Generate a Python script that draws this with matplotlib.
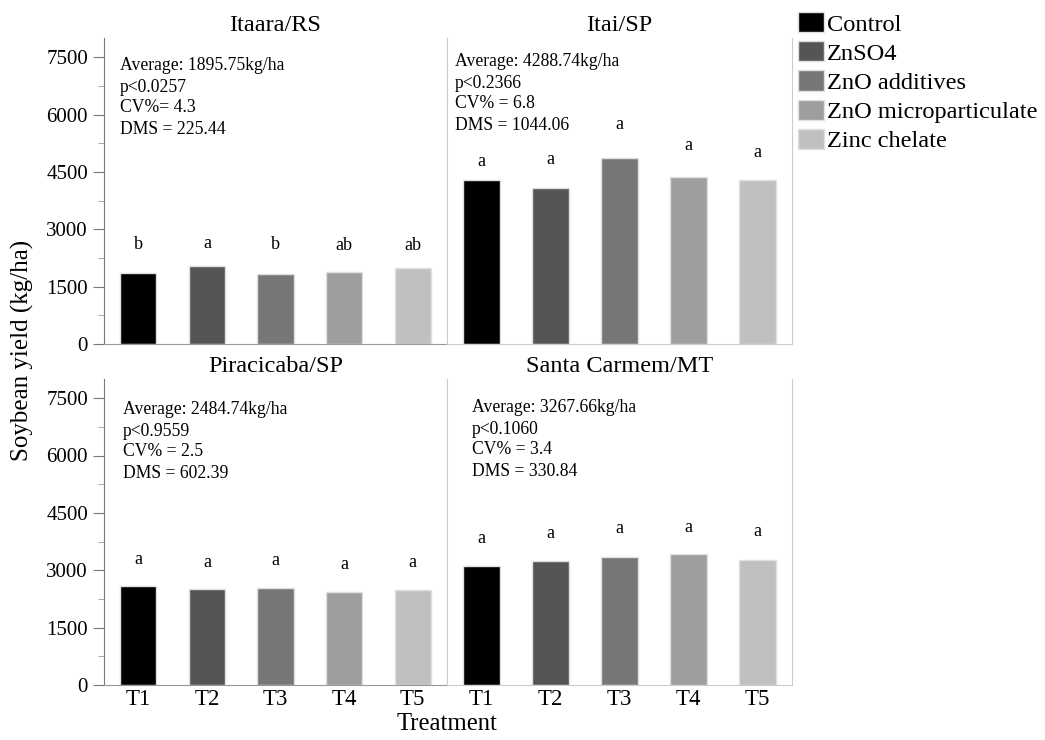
import matplotlib
matplotlib.use("Agg")
import matplotlib.pyplot as plt
from matplotlib.patches import Patch
from matplotlib.ticker import MultipleLocator

plt.rcParams['font.family'] = ['Liberation Serif', 'DejaVu Serif']

treatments = ['T1', 'T2', 'T3', 'T4', 'T5']
products = ['Control', 'ZnSO4', 'ZnO additives', 'ZnO microparticulate', 'Zinc chelate']
colors = ['#000000', '#555555', '#777777', '#9e9e9e', '#c0c0c0']

sites = ['Itaara/RS', 'Itai/SP', 'Piracicaba/SP', 'Santa Carmem/MT']
yields = [
    [1845, 2035, 1820, 1895, 1975],
    [4285, 4085, 4875, 4370, 4300],
    [2590, 2505, 2540, 2435, 2495],
    [3120, 3250, 3345, 3435, 3280],
]
letters = [
    ['b', 'a', 'b', 'ab', 'ab'],
    ['a', 'a', 'a', 'a', 'a'],
    ['a', 'a', 'a', 'a', 'a'],
    ['a', 'a', 'a', 'a', 'a'],
]
letter_y = [
    [2590, 2630, 2590, 2580, 2580],
    [4760, 4835, 5750, 5180, 5010],
    [3280, 3190, 3250, 3150, 3200],
    [3840, 3955, 4080, 4115, 4010],
]
stats = [
    ["Average: 1895.75kg/ha", "p<0.0257", "CV%= 4.3", "DMS = 225.44"],
    ["Average: 4288.74kg/ha", "p<0.2366", "CV% = 6.8", "DMS = 1044.06"],
    ["Average: 2484.74kg/ha", "p<0.9559", "CV% = 2.5", "DMS = 602.39"],
    ["Average: 3267.66kg/ha", "p<0.1060", "CV% = 3.4", "DMS = 330.84"],
]

W, H = 1045, 740
fig = plt.figure(figsize=(W / 100, H / 100), dpi=100)

# panel boxes in pixels: left, top, right, bottom
boxes = [(104, 38, 447, 344), (447, 38, 792, 344),
         (104, 379, 447, 685), (447, 379, 792, 685)]
text_pos = [(120, 66), (455, 62), (123, 410), (472, 408)]

x = list(range(len(treatments)))
for i, (l, t, r, b) in enumerate(boxes):
    ax = fig.add_axes([l / W, 1 - b / H, (r - l) / W, (b - t) / H])
    ax.bar(x, yields[i], width=0.53, color=colors, edgecolor='#e0e0e0', linewidth=1)
    for xi, lab, ly in zip(x, letters[i], letter_y[i]):
        ax.text(xi, ly, lab, ha='center', va='center', fontsize=13)
    ax.set_xlim(-0.5, 4.5)
    ax.set_ylim(0, 8000)
    ax.set_title(sites[i], fontsize=17.5, pad=5)
    ax.spines['top'].set_visible(False)
    ax.spines['right'].set_color('#cccccc')
    left = i % 2 == 0
    if left:
        ax.spines['left'].set_color('#777777')
        ax.spines['bottom'].set_color('#999999')
        ax.yaxis.set_major_locator(MultipleLocator(1500))
        ax.yaxis.set_minor_locator(MultipleLocator(750))
        ax.tick_params(axis='y', which='major', length=8, color='#777777', labelsize=15)
        ax.tick_params(axis='y', which='minor', length=4, color='#999999')
    else:
        ax.spines['left'].set_color('#cccccc')
        ax.spines['bottom'].set_color('#cccccc')
        ax.set_yticks([])
    ax.set_xticks(x)
    if i >= 2:
        ax.set_xticklabels(treatments, fontsize=16.5)
    else:
        ax.set_xticklabels([])
    ax.tick_params(axis='x', length=0, pad=3)
    tx, ty = text_pos[i]
    for k, line in enumerate(stats[i]):
        fig.text(tx / W, 1 - (ty + 21 * k) / H, line, ha='left', va='center', fontsize=12.7)

fig.text(22 / W, 1 - 350 / H, 'Soybean yield (kg/ha)', rotation=90, ha='center', va='center', fontsize=18)
fig.text(447 / W, 1 - 724 / H, 'Treatment', ha='center', va='center', fontsize=17.8)

handles = [Patch(facecolor=c, edgecolor='#e0e0e0', linewidth=1) for c in colors]
fig.legend(handles, products, loc='upper left', bbox_to_anchor=(798 / W, 1 - 12 / H),
           frameon=False, fontsize=17.6, handlelength=1.07, handleheight=0.9,
           handletextpad=0.1, labelspacing=0.23, borderpad=0, borderaxespad=0)

fig.savefig('out.png', dpi=100)
